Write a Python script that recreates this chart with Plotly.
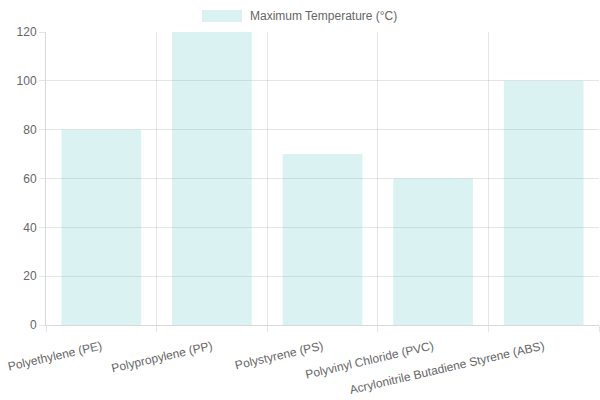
import plotly.graph_objects as go

categories = ["Polyethylene (PE)", "Polypropylene (PP)", "Polystyrene (PS)",
              "Polyvinyl Chloride (PVC)", "Acrylonitrile Butadiene Styrene (ABS)"]
max_temp = [80, 120, 70, 60, 100]
series_name = "Maximum Temperature (°C)"

fill = "rgba(75,192,192,0.2)"
grid = "rgba(0,0,0,0.1)"

fig = go.Figure()
fig.add_trace(go.Bar(
    x=categories, y=max_temp, name=series_name,
    marker=dict(color=fill, line=dict(width=0)),
    showlegend=False,
))

# Chart.js-style legend (box + label) at top centre
L, T, W, H = 46, 32, 553, 293
def px(x): return (x - L) / W
def py(y): return (T + H - y) / H

fig.add_shape(type="rect", xref="paper", yref="paper",
              x0=px(202), x1=px(242), y0=py(22), y1=py(10),
              fillcolor=fill, line=dict(width=0))
fig.add_annotation(xref="paper", yref="paper", x=px(248), y=py(16.5),
                   xanchor="left", yanchor="middle", showarrow=False,
                   text=series_name, font=dict(size=12, color="#666"))

fig.update_layout(
    width=600, height=400,
    margin=dict(l=L, r=1, t=T, b=75),
    paper_bgcolor="white", plot_bgcolor="white",
    font=dict(family="Liberation Sans, Arial, sans-serif", size=12, color="#666"),
    bargap=0.28,
    showlegend=False,
    xaxis=dict(
        type="category", tickson="boundaries", showgrid=True, gridcolor=grid, gridwidth=1,
        ticks="outside", ticklen=6, tickcolor=grid, tickangle=-13,
        ticklabelstandoff=9,
        showline=True, linecolor="rgba(0,0,0,0.15)", linewidth=1,
        range=[-0.5, 4.5],
    ),
    yaxis=dict(
        range=[0, 120], dtick=20, showgrid=True, gridcolor=grid, gridwidth=1,
        ticks="outside", ticklen=6, tickcolor=grid,
        showline=True, linecolor="rgba(0,0,0,0.15)", linewidth=1, zeroline=False,
    ),
)

fig.write_html("out.html")
